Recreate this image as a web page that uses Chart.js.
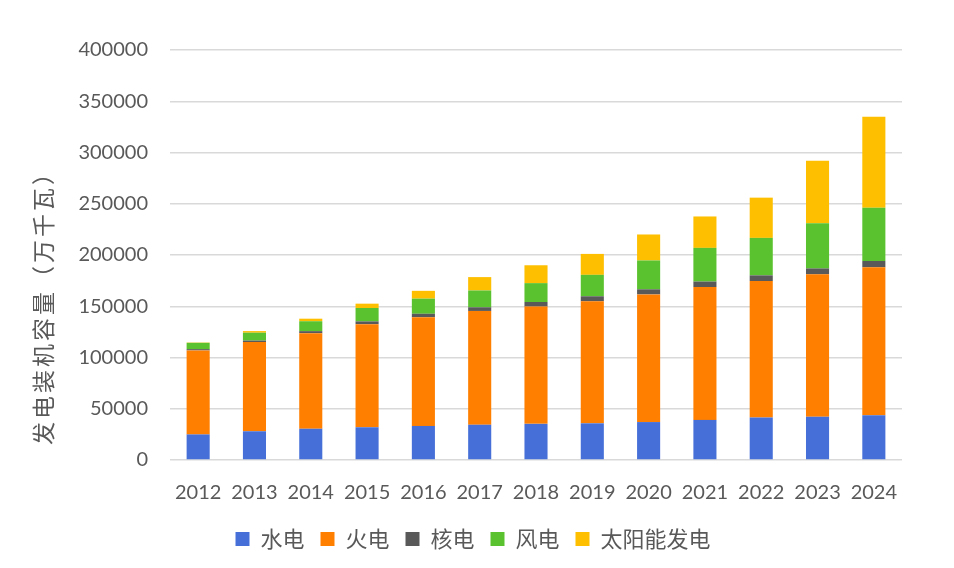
<!DOCTYPE html>
<html>
<head>
<meta charset="utf-8">
<script src="https://cdn.jsdelivr.net/npm/chart.js@4/dist/chart.umd.min.js"></script>
<style>
html,body{margin:0;padding:0;background:#fff;}
#wrap{width:954px;height:568px;}
</style>
</head>
<body>
<div id="wrap"><canvas id="c" width="954" height="568"></canvas></div>
<script>
const years = ['2012','2013','2014','2015','2016','2017','2018','2019','2020','2021','2022','2023','2024'];
const hydro   = [24947, 28044, 30486, 31954, 33207, 34411, 35259, 35804, 37016, 39092, 41350, 42154, 43595];
const thermal = [81968, 87009, 93232, 100554, 106094, 111009, 114408, 119055, 124517, 129678, 133239, 139032, 144445];
const nuclear = [1257, 1466, 2008, 2717, 3364, 3582, 4466, 4874, 4989, 5326, 5553, 5691, 6083];
const wind    = [6142, 7652, 9657, 13075, 14747, 16400, 18427, 20915, 28153, 32848, 36544, 44134, 52068];
const solar   = [341, 1589, 2486, 4218, 7631, 13042, 17433, 20418, 25343, 30656, 39261, 60949, 88666];
const seriesNames = ['水电','火电','核电','风电','太阳能发电'];
const yTicks = [0, 50000, 100000, 150000, 200000, 250000, 300000, 350000, 400000];
const yTitle = '发电装机容量（万千瓦）';

const colors = ['#4670D8','#FF7F00','#595959','#5BC22F','#FDBF00'];
const fontFam = 'Lato, "Noto Sans CJK SC", sans-serif';
const cjkFam = '"Noto Sans CJK SC", Lato, sans-serif';

const data = {
  labels: years,
  datasets: [hydro, thermal, nuclear, wind, solar].map((arr, i) => ({
    label: seriesNames[i],
    data: arr,
    backgroundColor: colors[i],
    borderWidth: 0,
    barPercentage: 0.41,
    categoryPercentage: 1.0
  }))
};

const yTitlePlugin = {
  id: 'yTitle',
  afterDraw(chart) {
    const ctx = chart.ctx;
    ctx.save();
    ctx.translate(43, 302);
    ctx.rotate(-Math.PI / 2);
    ctx.font = '23px ' + cjkFam;
    ctx.fillStyle = '#595959';
    ctx.textAlign = 'center';
    ctx.textBaseline = 'middle';
    try { ctx.letterSpacing = '3px'; } catch (e) {}
    ctx.fillText(yTitle, 0, 0);
    ctx.restore();
  }
};

new Chart(document.getElementById('c'), {
  type: 'bar',
  data,
  plugins: [yTitlePlugin],
  options: {
    responsive: false,
    animation: false,
    devicePixelRatio: 1,
    layout: { padding: { left: 33, right: 41, top: 50, bottom: 8 } },
    plugins: {
      legend: {
        position: 'bottom',
        labels: {
          boxWidth: 14, boxHeight: 14,
          color: '#595959',
          padding: 16,
          font: { family: cjkFam, size: 22 }
        }
      },
      tooltip: { enabled: false }
    },
    scales: {
      x: {
        stacked: true,
        grid: { display: false },
        border: { display: false },
        ticks: { color: '#595959', font: { family: fontFam, size: 20 }, padding: 13 },
        afterFit: s => { s.height = 52; }
      },
      y: {
        stacked: true,
        min: 0, max: 400000,
        afterBuildTicks: s => { s.ticks = yTicks.map(v => ({ value: v })); },
        grid: { color: '#D9D9D9', lineWidth: 1.5, drawTicks: false },
        border: { display: false },
        ticks: {
          color: '#595959', font: { family: fontFam, size: 20 }, padding: 22,
          callback: v => String(v)
        },
        afterFit: s => { s.width = 137; }
      },
      yPad: {
        position: 'right',
        display: true,
        grid: { display: false },
        border: { display: false },
        ticks: { display: false },
        afterFit: s => { s.width = 11; }
      }
    }
  }
});
</script>
</body>
</html>
